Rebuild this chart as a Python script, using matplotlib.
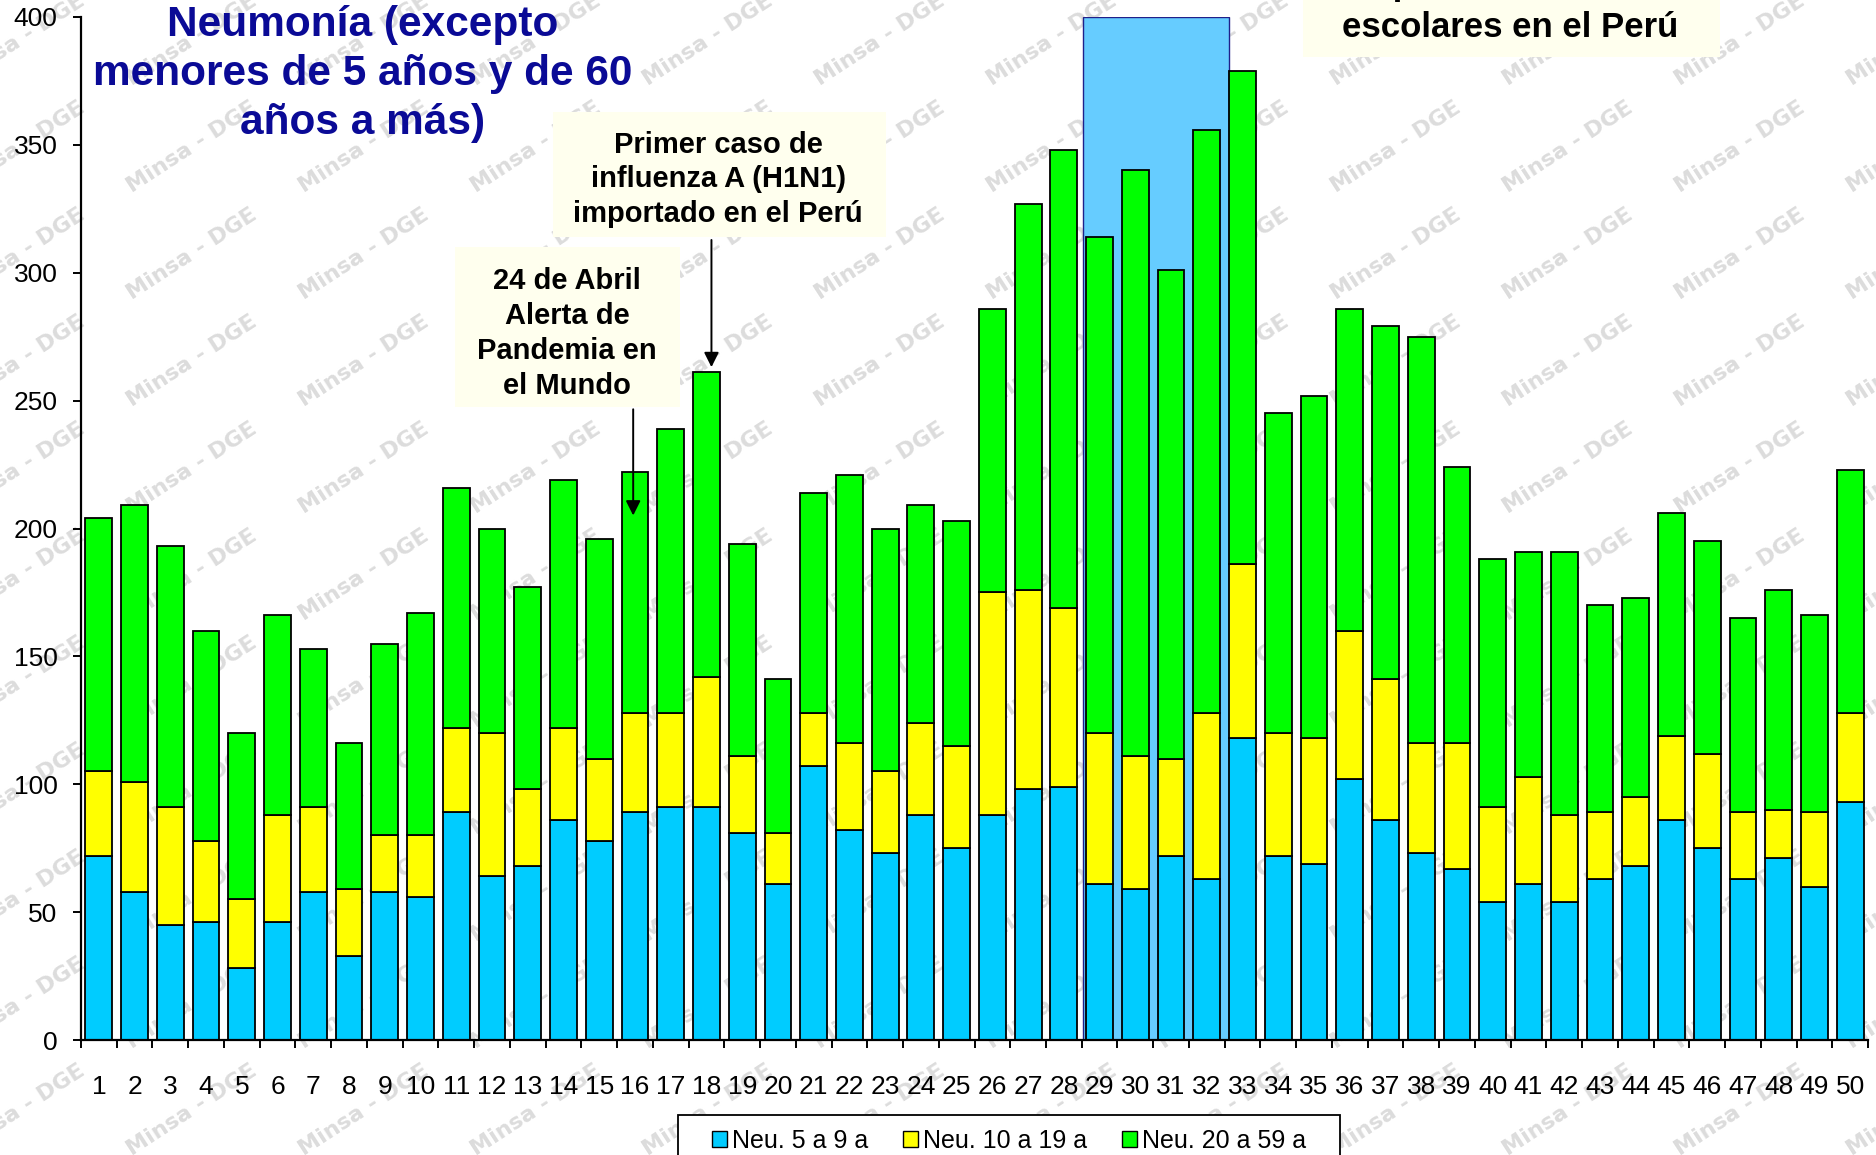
import matplotlib
matplotlib.use('Agg')
import matplotlib.pyplot as plt
from matplotlib.patches import Rectangle, Patch

plt.rcParams['font.family'] = ['Liberation Sans', 'DejaVu Sans']

# semanas epidemiologicas 1..50
semanas = list(range(1, 51))

# Neumonia por grupo de edad (casos por semana)
neu_5_9 = [72, 58, 45, 46, 28, 46, 58, 33, 58, 56,
           89, 64, 68, 86, 78, 89, 91, 91, 81, 61,
           107, 82, 73, 88, 75, 88, 98, 99, 61, 59,
           72, 63, 118, 72, 69, 102, 86, 73, 67, 54,
           61, 54, 63, 68, 86, 75, 63, 71, 60, 93]
neu_10_19 = [33, 43, 46, 32, 27, 42, 33, 26, 22, 24,
             33, 56, 30, 36, 32, 39, 37, 51, 30, 20,
             21, 34, 32, 36, 40, 87, 78, 70, 59, 52,
             38, 65, 68, 48, 49, 58, 55, 43, 49, 37,
             42, 34, 26, 27, 33, 37, 26, 19, 29, 35]
neu_20_59 = [99, 108, 102, 82, 65, 78, 62, 57, 75, 87,
             94, 80, 79, 97, 86, 94, 111, 119, 83, 60,
             86, 105, 95, 85, 88, 111, 151, 179, 194, 229,
             191, 228, 193, 125, 134, 126, 138, 159, 108, 97,
             88, 103, 81, 78, 87, 83, 76, 86, 77, 95]

series_labels = ['Neu. 5 a 9 a', 'Neu. 10 a 19 a', 'Neu. 20 a 59 a']
series_colors = ['#00CCFF', '#FFFF00', '#00FF00']

W, H = 1876, 1155
fig = plt.figure(figsize=(W / 100, H / 100), dpi=100)
fig.patch.set_facecolor('white')

ax_left, ax_right = 81 / W, 1868 / W
ax_bottom, ax_top = 1 - 1040 / H, 1 - 17 / H
ax = fig.add_axes([ax_left, ax_bottom, ax_right - ax_left, ax_top - ax_bottom])
ax.set_facecolor('none')

# marca de agua "Minsa - DGE"
for row in range(-1, 12):
    for col in range(-1, 12):
        px = 20 + col * 172
        py = 40 + row * 107
        fig.text(px / W, 1 - py / H, 'Minsa - DGE', rotation=33,
                 ha='center', va='center', fontsize=16, fontweight='bold',
                 family='DejaVu Sans', color='#dcdcdc', zorder=-1)

# periodo sombreado (semanas 29 a 32)
ax.add_patch(Rectangle((28.53, 0), 4.1, 400, facecolor='#66CCFF',
                       edgecolor='#20208a', lw=1.0, zorder=1))

# barras apiladas
bottom = [0] * len(semanas)
for vals, col in zip([neu_5_9, neu_10_19, neu_20_59], series_colors):
    ax.bar(semanas, vals, width=0.75, bottom=bottom, color=col,
           edgecolor='black', linewidth=1.3, zorder=3)
    bottom = [b + v for b, v in zip(bottom, vals)]

ax.set_xlim(0.5, 50.5)
ax.set_ylim(0, 400)

for s in ['top', 'right']:
    ax.spines[s].set_visible(False)
for s in ['left', 'bottom']:
    ax.spines[s].set_linewidth(1.6)
    ax.spines[s].set_zorder(4)

ax.set_yticks(range(0, 401, 50))
ax.tick_params(axis='y', direction='out', length=6, width=1.4, pad=11,
               labelsize=19)
# ticks del eje x entre categorias, etiquetas en el centro
ax.set_xticks([i + 0.5 for i in range(0, 51)])
ax.set_xticklabels([])
ax.set_xticks(semanas, minor=True)
ax.set_xticklabels([str(s) for s in semanas], minor=True)
ax.tick_params(axis='x', which='major', direction='out', length=6, width=1.4)
ax.tick_params(axis='x', which='minor', length=0, pad=25.5, labelsize=19)

# titulo
ax.text(8.37, 377.8, 'Neumonía (excepto\nmenores de 5 años y de 60\naños a más)',
        ha='center', va='center', fontsize=30.5, fontweight='bold',
        color='#0A0A96', linespacing=1.29, clip_on=False, zorder=6)

# cuadros de anotacion
box_col = '#FFFFEE'
ax.add_patch(Rectangle((13.71, 313.9), 9.3, 48.9, facecolor=box_col,
                       edgecolor='none', zorder=5))
ax.text(18.33, 336.5, 'Primer caso de\ninfluenza A (H1N1)\nimportado en el Perú',
        ha='center', va='center', fontsize=21, fontweight='bold',
        linespacing=1.29, zorder=6)
ax.annotate('', xy=(18.14, 262), xytext=(18.14, 313.9),
            arrowprops=dict(arrowstyle='-|>', color='black', lw=1.4,
                            mutation_scale=22), zorder=6)

ax.add_patch(Rectangle((10.97, 247.7), 6.3, 62.3, facecolor=box_col,
                       edgecolor='none', zorder=5))
ax.text(14.1, 276.3, '24 de Abril\nAlerta de\nPandemia en\nel Mundo',
        ha='center', va='center', fontsize=21, fontweight='bold',
        linespacing=1.31, zorder=6)
ax.annotate('', xy=(15.95, 204), xytext=(15.95, 247.7),
            arrowprops=dict(arrowstyle='-|>', color='black', lw=1.4,
                            mutation_scale=22), zorder=6)

ax.add_patch(Rectangle((34.68, 384.5), 11.68, 40, facecolor=box_col,
                       edgecolor='none', zorder=5, clip_on=False))
ax.text(40.5, 408.6, 'Suspensión de clases', ha='center', va='baseline',
        fontsize=25, fontweight='bold', zorder=6, clip_on=False)
ax.text(40.5, 392.2, 'escolares en el Perú', ha='center', va='baseline',
        fontsize=25, fontweight='bold', zorder=6, clip_on=False)

# leyenda (marco dibujado aparte)
fig.patches.append(Rectangle((678 / W, 1 - 1165 / H), 662 / W, 50 / H,
                             transform=fig.transFigure, facecolor='white',
                             edgecolor='black', lw=1.3, zorder=2))
handles = [Patch(facecolor=c, edgecolor='black', lw=1.0) for c in series_colors]
leg = fig.legend(handles, series_labels, loc='center',
                 bbox_to_anchor=(1009 / W, 1 - 1141 / H), ncol=3, fontsize=18,
                 frameon=False, handlelength=0.6, handleheight=0.6,
                 handletextpad=0.2, columnspacing=1.4, borderpad=0.2)
leg.set_zorder(3)

fig.savefig('out.png', dpi=100)
